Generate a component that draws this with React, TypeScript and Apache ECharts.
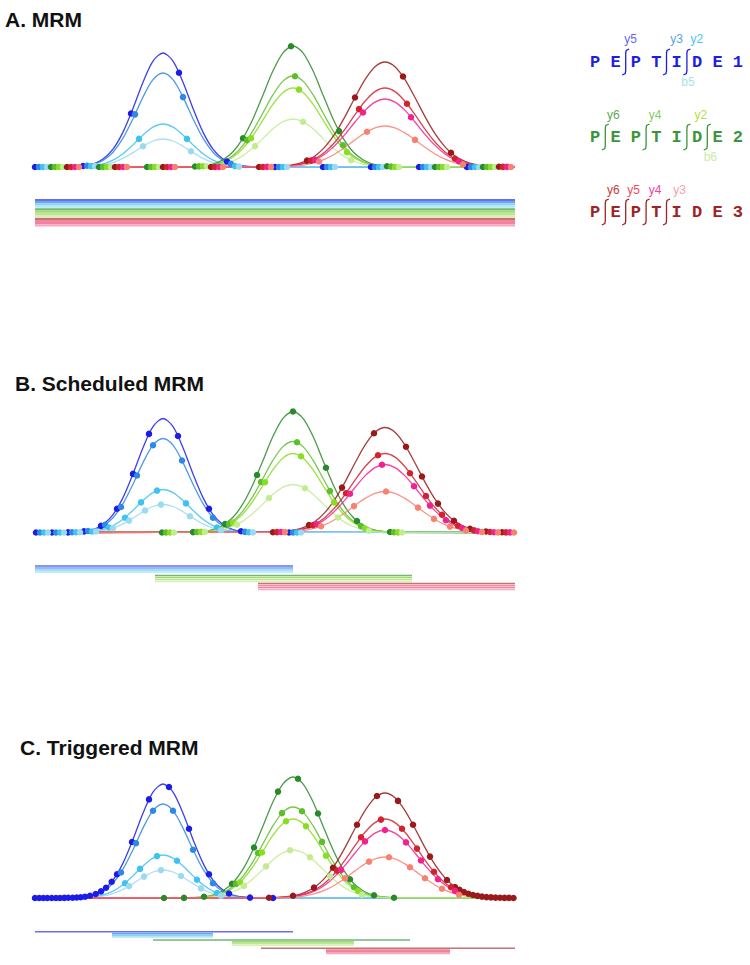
import React, { useEffect, useRef } from "react";
import * as echarts from "echarts";

// ---------------- DATA ----------------
// Peptides and monitored fragment ions (transitions)
const peptideSeqs = ["PEPTIDE", "PEPTIDE", "PEPTIDE"];
const peptideIds = ["1", "2", "3"];
const fragmentNames = [
  ["y5", "y3", "y2", "b5"],
  ["y6", "y4", "y2", "b6"],
  ["y6", "y5", "y4", "y3"],
];
// cleavage position (after residue index) for each fragment label
const fragmentCleavage = [
  [1, 3, 4, 4],
  [0, 2, 4, 5],
  [0, 1, 2, 3],
];

// Chromatographic peak profiles (time in min, intensity)
const p1Times = [0, 3.8, 4.8, 5.8, 6.8, 7.8, 8.8, 9.8, 10.8, 11.8, 12.8, 13.8, 14.8, 15.8, 16.8, 17.8, 18.8, 19.8, 20.8, 21.8, 48];
const p1y5 = [0, 0.3, 1.0, 3.0, 8.0, 17.9, 34.9, 58.6, 84.8, 105.9, 114, 105.9, 84.8, 58.6, 34.9, 17.9, 8.0, 3.0, 1.0, 0.3, 0];
const p1y3 = [0, 0.2, 0.8, 2.5, 6.6, 14.8, 28.8, 48.3, 69.9, 87.3, 94, 87.3, 69.9, 48.3, 28.8, 14.8, 6.6, 2.5, 0.8, 0.2, 0];
const p1y2 = [0, 0.1, 0.4, 1.1, 3.0, 6.8, 13.2, 22.1, 32.0, 39.9, 43, 39.9, 32.0, 22.1, 13.2, 6.8, 3.0, 1.1, 0.4, 0.1, 0];
const p1b5 = [0, 0.1, 0.2, 0.7, 2.0, 4.4, 8.6, 14.4, 20.8, 26.0, 28, 26.0, 20.8, 14.4, 8.6, 4.4, 2.0, 0.7, 0.2, 0.1, 0];

const p2Times = [0, 15.8, 16.8, 17.8, 18.8, 19.8, 20.8, 21.8, 22.8, 23.8, 24.8, 25.8, 26.8, 27.8, 28.8, 29.8, 30.8, 31.8, 32.8, 33.8, 34.8, 35.8, 48];
const p2y6 = [0, 0.4, 1.1, 3.0, 7.3, 15.2, 28.8, 48.3, 72.1, 96.2, 114.2, 121, 114.2, 96.2, 72.1, 48.3, 28.8, 15.2, 7.3, 3.0, 1.1, 0.4, 0];
const p2y4 = [0, 0.3, 0.9, 2.3, 5.5, 11.5, 21.7, 36.3, 54.2, 72.3, 85.9, 91, 85.9, 72.3, 54.2, 36.3, 21.7, 11.5, 5.5, 2.3, 0.9, 0.3, 0];
const p2y2 = [0, 0.3, 0.8, 2.0, 4.7, 10.0, 18.8, 31.5, 47.1, 62.8, 74.6, 79, 74.6, 62.8, 47.1, 31.5, 18.8, 10.0, 4.7, 2.0, 0.8, 0.3, 0];
const p2b6 = [0, 0.2, 0.5, 1.2, 2.9, 6.0, 11.4, 19.2, 28.6, 38.2, 45.3, 48, 45.3, 38.2, 28.6, 19.2, 11.4, 6.0, 2.9, 1.2, 0.5, 0.2, 0];

const p3Times = [0, 23, 24, 25, 26, 27, 28, 29, 30, 31, 32, 33, 34, 35, 36, 37, 38, 39, 40, 41, 42, 43, 44, 45, 46, 47, 48];
const p3y6 = [0, 0.1, 0.4, 1.1, 2.5, 5.6, 11.0, 20.1, 33.3, 50.4, 69.5, 87.4, 100.3, 105, 100.3, 87.4, 69.5, 50.4, 33.3, 20.1, 11.0, 5.6, 2.5, 1.1, 0.4, 0.1, 0];
const p3y5 = [0, 0.1, 0.3, 0.8, 1.9, 4.2, 8.3, 15.1, 25.0, 37.9, 52.3, 65.7, 75.4, 79, 75.4, 65.7, 52.3, 37.9, 25.0, 15.1, 8.3, 4.2, 1.9, 0.8, 0.3, 0.1, 0];
const p3y4 = [0, 0.1, 0.3, 0.7, 1.6, 3.6, 7.1, 13.0, 21.6, 32.6, 45.0, 56.6, 64.9, 68, 64.9, 56.6, 45.0, 32.6, 21.6, 13.0, 7.1, 3.6, 1.6, 0.7, 0.3, 0.1, 0];
const p3y3 = [0, 0.1, 0.2, 0.4, 1.0, 2.2, 4.3, 7.8, 13.0, 19.7, 27.1, 34.1, 39.2, 41, 39.2, 34.1, 27.1, 19.7, 13.0, 7.8, 4.3, 2.2, 1.0, 0.4, 0.2, 0.1, 0];

// ---- A. MRM: every transition measured in every cycle ----
const scanA = [0, 4.8, 9.6, 14.4, 19.2, 24.0, 28.8, 33.6, 38.4, 43.2];
const offsetsA = [0, 0.4, 0.8, 1.2, 1.6, 2.0, 2.4, 2.8, 3.2, 3.6, 4.0, 4.4];
const dotsA_p1 = [
  [0, 1.0, 53.5, 94.3, 5.5, 0, 0, 0, 0, 0],
  [0, 1.3, 52.6, 69.9, 3.1, 0, 0, 0, 0, 0],
  [0, 0.9, 28.1, 28.1, 0.9, 0, 0, 0, 0, 0],
  [0, 0.9, 20.8, 15.7, 0.4, 0, 0, 0, 0, 0],
];
const dotsA_p2 = [
  [0, 0, 0, 0.5, 28.8, 120.8, 35.9, 0.8, 0, 0],
  [0, 0, 0, 0.6, 26.9, 90.8, 21.7, 0.4, 0, 0],
  [0, 0, 0, 0.8, 28.7, 77.4, 14.8, 0, 0, 0],
  [0, 0, 0, 0.7, 20.9, 45.3, 6.9, 0, 0, 0],
];
const dotsA_p3 = [
  [0, 0, 0, 0, 0, 6.4, 69.5, 90.5, 14.2, 0.3],
  [0, 0, 0, 0, 0, 6.4, 57.9, 63.3, 8.3, 0.1],
  [0, 0, 0, 0, 0.1, 7.1, 54.5, 49.8, 5.5, 0.1],
  [0, 0, 0, 0, 0, 5.5, 35.3, 27.1, 2.5, 0],
];

// offsets of the 4 transitions of one peptide inside a scan
const groupOffsets = [0, 0.4, 0.8, 1.2];

// ---- B. Scheduled MRM ----
const scanB_p1 = [0.1, 1.7, 3.3, 4.9, 6.6, 8.2, 9.8, 11.4, 14.3, 17.4, 20.6, 25.4];
const dotsB_p1 = [
  [0, 0, 0.1, 1.1, 6.6, 23.8, 58.6, 98.6, 96.5, 23.8, 1.3, 0],
  [0, 0, 0.2, 1.5, 7.8, 25.5, 57.0, 87.3, 72.0, 14.8, 0.6, 0],
  [0, 0, 0.2, 1.0, 5.0, 14.8, 30.1, 41.9, 29.1, 5.0, 0.2, 0],
  [0, 0, 0.2, 1.0, 4.4, 11.9, 22.0, 27.9, 16.3, 2.3, 0.1, 0],
];
const scanB_p2 = [12.7, 15.8, 19.0, 22.2, 25.8, 29.1, 32.2, 35.5];
const dotsB_p2 = [
  [0, 0.4, 8.5, 57.5, 121, 64.7, 11.5, 0.5],
  [0, 0.5, 8.6, 50.5, 90.2, 41.4, 6.4, 0.3],
  [0, 0.6, 10.0, 50.3, 76.2, 30.1, 4.0, 0.1],
  [0, 0.6, 7.9, 34.5, 44.2, 15.0, 1.7, 0],
];
const scanB_p3 = [23.8, 27.4, 30.7, 33.9, 37.1, 38.7, 40.3, 41.9, 43.5, 45.1, 46.7];
const dotsB_p3 = [
  [0.3, 7.4, 44.9, 99.3, 85.8, 56.0, 28.9, 11.8, 3.8, 1.0, 0.2],
  [0.4, 7.3, 39.3, 77.3, 59.3, 36.5, 17.8, 6.8, 2.1, 0.5, 0.1],
  [0.5, 8.2, 38.8, 67.7, 46.2, 26.9, 12.3, 4.5, 1.3, 0.3, 0.1],
  [0.4, 6.2, 26.4, 41, 24.9, 13.6, 5.9, 2.0, 0.5, 0.1, 0],
];
const windowsB = [[0, 25.8], [12, 37.7], [22.3, 48]];

// ---- C. Triggered MRM ----
const primaryTimesC_p1 = [0, 0.42, 0.83, 1.23, 1.67, 2.1, 2.5, 2.93, 3.33, 3.77, 4.17, 4.57, 5.0, 5.5, 6.07, 6.6, 7.1, 7.67, 19.4, 21.5, 23.8];
const primaryValsC_p1 = [0, 0, 0, 0, 0, 0, 0, 0.1, 0.2, 0.3, 0.5, 0.8, 1.3, 2.2, 4.0, 6.6, 10.3, 16.3, 4.5, 0.4, 0];
const scanC_p1 = [8.2, 9.7, 11.4, 13.4, 15.4, 17.4];
const dotsC_p1 = [
  [23.8, 56.0, 98.6, 111.0, 69.2, 23.8],
  [25.5, 54.8, 87.3, 87.3, 48.3, 14.8],
  [14.8, 29.1, 41.9, 37.2, 18.3, 5.0],
  [11.9, 21.4, 27.9, 22.0, 9.6, 2.3],
];
const primaryTimesC_p2 = [12.9, 14.9, 16.9, 33.9, 35.9];
const primaryValsC_p2 = [0, 0.1, 1.3, 2.8, 0.3];
const scanC_p2 = [19.7, 21.9, 24.3, 26.3, 28.3, 31.5];
const dotsC_p2 = [
  [14.3, 50.5, 106.4, 119.3, 84.5, 18.7],
  [14.1, 45.0, 84.9, 86.8, 56.1, 10.7],
  [15.7, 45.5, 76.8, 71.7, 42.2, 7.0],
  [12.1, 31.6, 47.8, 40.7, 21.8, 3.1],
];
const primaryTimesC_p3 = [23.4, 25.8, 27.9, 42.0, 42.45, 42.9, 43.35, 43.8, 44.25, 44.7, 45.15, 45.6, 46.05, 46.5, 46.95, 47.4, 47.85];
const primaryValsC_p3 = [0.2, 2.2, 10.4, 11.0, 8.2, 6.0, 4.3, 3.0, 2.1, 1.4, 0.9, 0.6, 0.4, 0.2, 0.1, 0.1, 0];
const scanC_p3 = [29.8, 32.2, 34.2, 36.3, 37.8, 39.5, 41.2];
const dotsC_p3 = [
  [30.3, 73.3, 102.0, 97.1, 73.3, 41.4, 18.0],
  [27.4, 60.7, 78.4, 69.2, 49.4, 26.2, 10.7],
  [27.9, 56.6, 68.0, 55.6, 37.5, 18.7, 7.1],
  [19.7, 36.4, 40.7, 30.8, 19.7, 9.2, 3.3],
];
const primaryWindowsC = [[0, 25.8], [11.8, 37.5], [22.6, 48]];
const triggerWindowsC = [[7.7, 17.8], [19.7, 31.9], [29.1, 41.5]];

const panelTitles = ["A. MRM", "B. Scheduled MRM", "C. Triggered MRM"];

// ---------------- STYLE / LAYOUT ----------------
const dotColors = ["#1c1ce8", "#2e88e4", "#3ec2f2", "#9cdaf0", "#2a8a2a", "#5cbe2c", "#8ade22", "#c2ec92", "#981a1a", "#d2222e", "#f0228e", "#f88272"];
const barColors = ["#6c6cf2", "#68a8f0", "#88d2f2", "#b2e4f2", "#74b674", "#a2da74", "#bce88a", "#d6f0b8", "#c47272", "#ee8a90", "#f27eaa", "#f8a8bc"];
const peptideColors = ["#1e1ee0", "#3a963a", "#9e2424"];
const labelColors = [
  ["#6464f2", "#58a2f0", "#48c6f2", "#a6e2f0"],
  ["#5aaa52", "#86cc5a", "#b2de44", "#c8eca6"],
  ["#c43c3c", "#ee4a5e", "#ee44a0", "#f6a0b0"],
];
const PANEL_BASE = [167, 532.5, 898];
const BAR_TOP = [195, 560, 925];
const TITLE_POS = [[5, 19], [15, 383], [20, 747]];
const X_LEFT = 35;
const X_WIDTH = 480;
const Y_SPAN = 130;
const BAR_H = 40;

function buildOption() {
  const curveTimes = [p1Times, p2Times, p3Times];
  const curveVals = [
    [p1y5, p1y3, p1y2, p1b5],
    [p2y6, p2y4, p2y2, p2b6],
    [p3y6, p3y5, p3y4, p3y3],
  ];
  const grid: any[] = [];
  const xAxis: any[] = [];
  const yAxis: any[] = [];
  for (let p = 0; p < 3; p++) {
    grid.push({ left: X_LEFT, width: X_WIDTH, top: PANEL_BASE[p] - Y_SPAN, height: Y_SPAN });
    grid.push({ left: X_LEFT, width: X_WIDTH, top: BAR_TOP[p], height: BAR_H });
    xAxis.push({ type: "value", min: 0, max: 48, show: false, gridIndex: 2 * p });
    xAxis.push({ type: "value", min: 0, max: 48, show: false, gridIndex: 2 * p + 1 });
    yAxis.push({ type: "value", min: 0, max: Y_SPAN, show: false, gridIndex: 2 * p });
    yAxis.push({ type: "value", min: 0, max: BAR_H, inverse: true, show: false, gridIndex: 2 * p + 1 });
  }

  const series: any[] = [];
  // curves
  for (let p = 0; p < 3; p++) {
    for (let g = 0; g < 3; g++) {
      for (let j = 0; j < 4; j++) {
        const k = g * 4 + j;
        series.push({
          type: "line",
          name: `P${g + 1} ${fragmentNames[g][j]}`,
          xAxisIndex: 2 * p,
          yAxisIndex: 2 * p,
          data: curveTimes[g].map((t, i) => [t, curveVals[g][j][i]]),
          smooth: 0.3,
          symbol: "none",
          showSymbol: false,
          clip: false,
          silent: true,
          z: 2,
          lineStyle: { color: dotColors[k], width: 1.3, opacity: 0.85 },
        });
      }
    }
  }

  // dots
  const dotsA = [dotsA_p1, dotsA_p2, dotsA_p3];
  const scanB = [scanB_p1, scanB_p2, scanB_p3];
  const dotsB = [dotsB_p1, dotsB_p2, dotsB_p3];
  const scanC = [scanC_p1, scanC_p2, scanC_p3];
  const dotsC = [dotsC_p1, dotsC_p2, dotsC_p3];
  const primT = [primaryTimesC_p1, primaryTimesC_p2, primaryTimesC_p3];
  const primV = [primaryValsC_p1, primaryValsC_p2, primaryValsC_p3];
  const pushDots = (p: number, k: number, data: number[][]) => {
    series.push({
      type: "scatter",
      xAxisIndex: 2 * p,
      yAxisIndex: 2 * p,
      data,
      symbolSize: 6.5,
      clip: false,
      silent: true,
      z: 3,
      itemStyle: { color: dotColors[k], opacity: 1 },
    });
  };
  for (let g = 0; g < 3; g++) {
    for (let j = 0; j < 4; j++) {
      const k = g * 4 + j;
      pushDots(0, k, scanA.map((s, c) => [s + offsetsA[k], dotsA[g][j][c]]));
      pushDots(1, k, scanB[g].map((s, c) => [s + groupOffsets[j], dotsB[g][j][c]]));
      const cData = scanC[g].map((s, c) => [s + groupOffsets[j], dotsC[g][j][c]]);
      if (j === 0) primT[g].forEach((t, i) => cData.push([t, primV[g][i]]));
      pushDots(2, k, cData);
    }
  }

  // acquisition windows
  const pushBar = (p: number, k: number, s: number, e: number, row: number, width: number, color: string) => {
    series.push({
      type: "line",
      xAxisIndex: 2 * p + 1,
      yAxisIndex: 2 * p + 1,
      data: [[s, row], [e, row]],
      symbol: "none",
      clip: false,
      silent: true,
      z: 1,
      lineStyle: { color, width },
    });
  };
  const bOffs = [6, 15.5, 23.5];
  for (let g = 0; g < 3; g++) {
    for (let j = 0; j < 4; j++) {
      const k = g * 4 + j;
      pushBar(0, k, 0, 48, 5 + k * 2.2 + g * 0.6, 2.2, barColors[k]);
      pushBar(1, k, windowsB[g][0], windowsB[g][1], bOffs[g] + j * 2, 1.6, barColors[k]);
      if (j === 0) {
        pushBar(2, k, primaryWindowsC[g][0], primaryWindowsC[g][1], 6.7 + g * 8.3, 1.4, barColors[k]);
      } else {
        pushBar(2, k, triggerWindowsC[g][0], triggerWindowsC[g][1], 6.7 + g * 8.3 + 0.3 + j * 1.6, 1.7, barColors[k]);
      }
    }
  }

  // graphics: titles, peptide annotations
  const graphic: any[] = [];
  panelTitles.forEach((t, p) => {
    graphic.push({
      type: "text",
      x: TITLE_POS[p][0],
      y: TITLE_POS[p][1],
      style: {
        text: t,
        font: 'bold 21px "Liberation Sans", Arial, sans-serif',
        fill: "#111111",
        textVerticalAlign: "middle",
      },
    });
  });
  const pepY = [62, 137, 212];
  const labelAboveY = [39, 115, 190];
  const labelBelowY = [82, 157, 232];
  const labelDx = [
    [5, 10, 10, 1],
    [8, 9, 14, 3],
    [8, 8, 9, 13],
  ];
  const LETTER0 = 595.1;
  const STEP = 20.4;
  for (let g = 0; g < 3; g++) {
    const spaced = (peptideSeqs[g] + peptideIds[g]).split("").join(" ");
    graphic.push({
      type: "text",
      x: LETTER0 - 5.1,
      y: pepY[g],
      style: {
        text: spaced,
        font: 'bold 17px "Liberation Mono", "DejaVu Sans Mono", monospace',
        fill: peptideColors[g],
        textVerticalAlign: "middle",
      },
    });
    const drawn: Record<number, boolean> = {};
    for (let j = 0; j < 4; j++) {
      const pos = fragmentCleavage[g][j];
      const bx = LETTER0 + STEP * (pos + 0.5);
      if (!drawn[pos]) {
        drawn[pos] = true;
        const cy = pepY[g];
        graphic.push({
          type: "polyline",
          shape: { points: [[bx + 3.5, cy - 13], [bx + 0.5, cy - 11.5], [bx, cy - 9], [bx, cy + 9], [bx - 0.5, cy + 11.5], [bx - 3.5, cy + 13]] },
          style: { stroke: peptideColors[g], lineWidth: 1.3, fill: null },
        });
      }
      const isB = fragmentNames[g][j].startsWith("b");
      graphic.push({
        type: "text",
        x: bx + labelDx[g][j],
        y: isB ? labelBelowY[g] : labelAboveY[g],
        style: {
          text: fragmentNames[g][j],
          font: '12px "Liberation Sans", Arial, sans-serif',
          fill: labelColors[g][j],
          textAlign: "center",
          textVerticalAlign: "middle",
        },
      });
    }
  }

  return {
    animation: false,
    backgroundColor: "#ffffff",
    grid,
    xAxis,
    yAxis,
    series,
    graphic,
  };
}

export default function App() {
  const ref = useRef<HTMLDivElement>(null);
  useEffect(() => {
    document.body.style.margin = "0";
    const chart = echarts.init(ref.current as HTMLDivElement, null, { renderer: "svg" });
    chart.setOption(buildOption() as any);
    return () => chart.dispose();
  }, []);
  return <div ref={ref} style={{ width: 750, height: 965 }} />;
}
